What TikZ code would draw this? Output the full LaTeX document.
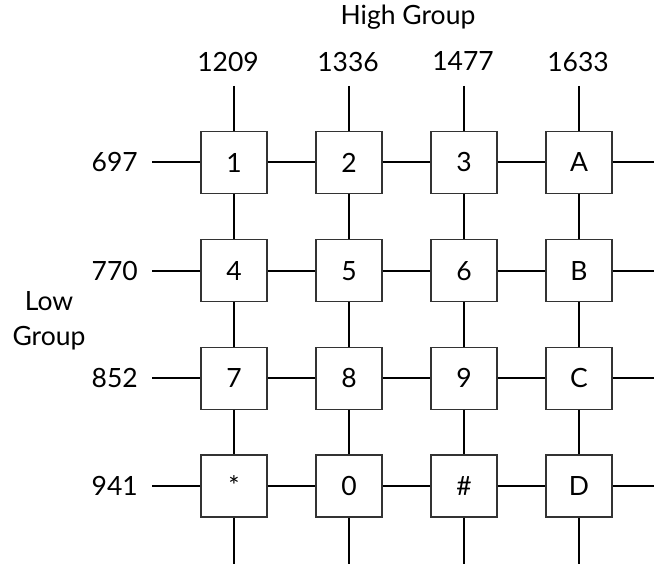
\documentclass[tikz,border=0pt]{standalone}
\usepackage{fontspec}
\setmainfont{Lato}
\begin{document}
\begin{tikzpicture}[x=1pt,y=-1pt,
  key/.style={draw=black!80,line width=1.3pt,fill=white,minimum width=66pt,minimum height=62pt,inner sep=0pt,font=\fontsize{26.5}{30}\selectfont},
  wire/.style={line width=2pt,black},
  lbl/.style={inner sep=0pt,font=\fontsize{26.5}{30}\selectfont}]
\useasboundingbox (0,0) rectangle (654,564);
% column endpoints
\foreach \c/\x in {1/234,2/349,3/464,4/579}{
  \coordinate (t\c) at (\x,86);
  \coordinate (d\c) at (\x,564);
}
\foreach \r/\y in {1/162.5,2/270.8,3/378.3,4/486}{
  \coordinate (l\r) at (152,\y);
  \coordinate (e\r) at (654,\y);
}
% keys
\foreach \r/\y/\a/\b/\cc/\d in {1/162.5/1/2/3/A,2/270.8/4/5/6/B,3/378.3/7/8/9/C,4/486/*/0/\#/D}{
  \node[key] (k\r1) at (234,\y) {\a};
  \node[key] (k\r2) at (349,\y) {\b};
  \node[key] (k\r3) at (464,\y) {\cc};
  \node[key] (k\r4) at (579,\y) {\d};
}
% vertical wires
\foreach \c in {1,2,3,4}{
  \draw[wire] (t\c) -- (k1\c);
  \draw[wire] (k1\c) -- (k2\c);
  \draw[wire] (k2\c) -- (k3\c);
  \draw[wire] (k3\c) -- (k4\c);
  \draw[wire] (k4\c) -- (d\c);
}
% horizontal wires
\foreach \r in {1,2,3,4}{
  \draw[wire] (l\r) -- (k\r1);
  \draw[wire] (k\r1) -- (k\r2);
  \draw[wire] (k\r2) -- (k\r3);
  \draw[wire] (k\r3) -- (k\r4);
  \draw[wire] (k\r4) -- (e\r);
}
% labels
\node[lbl,anchor=base] (hg) at (408,25) {High Group};
\node[lbl,anchor=base] (f1) at (228,72) {1209};
\node[lbl,anchor=base] (f2) at (348,72) {1336};
\node[lbl,anchor=base] (f3) at (463,71) {1477};
\node[lbl,anchor=base] (f4) at (578,72) {1633};
\node[lbl,anchor=base east] (g1) at (138,172) {697};
\node[lbl,anchor=base east] (g2) at (138,281) {770};
\node[lbl,anchor=base east] (g3) at (138,388) {852};
\node[lbl,anchor=base east] (g4) at (138,495) {941};
\node[lbl,anchor=base] (lg1) at (49,311) {Low};
\node[lbl,anchor=base] (lg2) at (49,345) {Group};
\end{tikzpicture}
\end{document}
